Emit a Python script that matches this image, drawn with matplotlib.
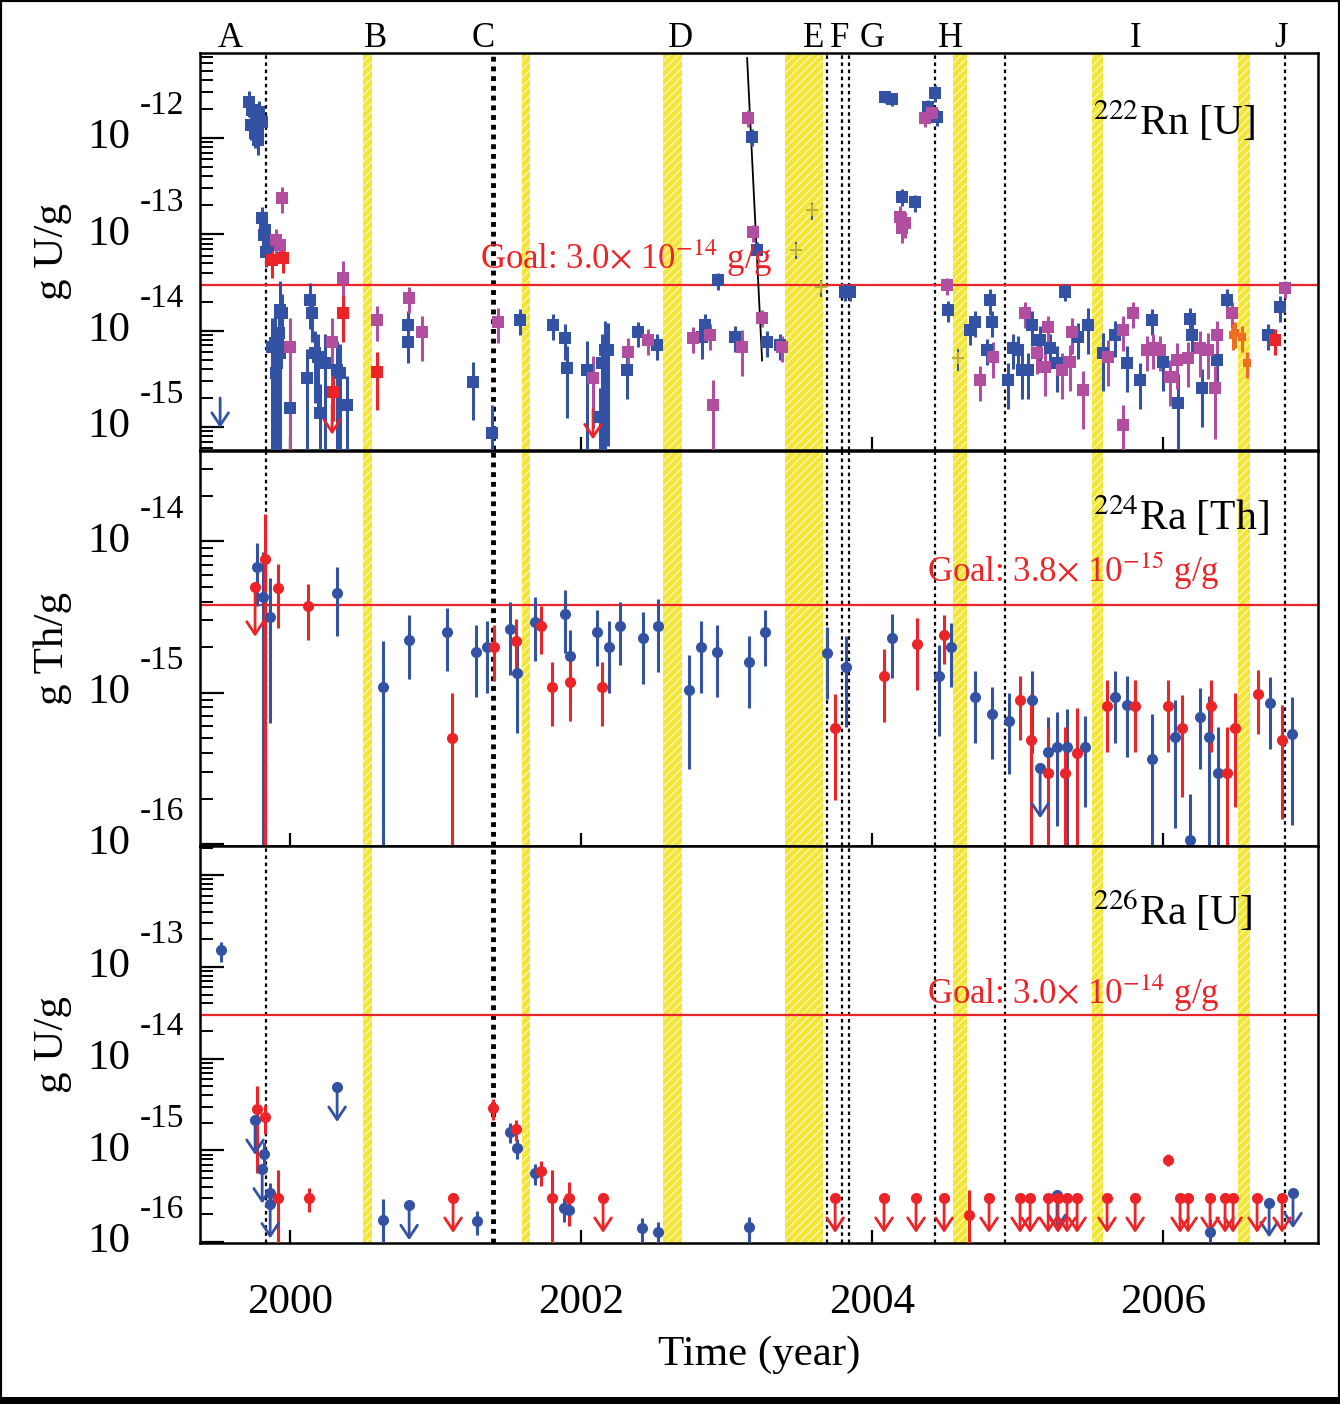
import numpy as np
import matplotlib
matplotlib.use("Agg")
import matplotlib.pyplot as plt
from matplotlib.patches import Rectangle
from matplotlib.ticker import LogLocator, NullFormatter
from matplotlib.transforms import offset_copy

plt.rcParams["font.family"] = ["Liberation Serif", "DejaVu Serif"]
plt.rcParams["mathtext.fontset"] = "stix"
plt.rcParams["hatch.linewidth"] = 1.0

BLUE = "#3452a4"
RED = "#ec2327"
MAGENTA = "#b24ea0"
ORANGE = "#f26b22"
YELLOW = "#f3e536"

# ---- time axis / run markers -------------------------------------------
YEAR_TICKS = [2000, 2002, 2004, 2006]
LETTERS = ["A", "B", "C", "D", "E", "F", "G", "H", "I", "J"]
LETTER_X = [1999.588, 2000.584, 2001.326, 2002.680, 2003.595, 2003.780,
            2004.000, 2004.536, 2005.808, 2006.811]
DOTTED_X = [1999.835, 2003.691, 2003.794, 2003.842, 2004.433, 2004.914, 2006.838]
DOTTED_THICK_X = [2001.395]
BANDS = [(2000.502, 2000.564), (2001.594, 2001.649), (2002.564, 2002.694),
         (2003.402, 2003.663), (2004.557, 2004.653), (2005.512, 2005.588),
         (2006.515, 2006.598)]

# ---- 222Rn [U] panel (values are log10 of g/g, errors are relative) -----
RN_BLUE_X = [1999.718, 1999.739, 1999.766, 1999.732, 1999.787, 1999.808, 1999.759, 1999.780,
             1999.808, 1999.828, 1999.849, 1999.821, 1999.863, 1999.835,
             1999.931, 1999.945, 1999.924, 1999.897, 1999.876, 1999.931, 1999.911, 1999.904,
             2000.000, 2000.137, 2000.151, 2000.172, 2000.192, 2000.117, 2000.206, 2000.241,
             2000.323, 2000.344, 2000.392, 2000.811, 2000.811, 2001.258, 2001.388, 2001.581,
             2001.808, 2001.890, 2001.904, 2002.041, 2002.144, 2002.165, 2002.131, 2002.186,
             2002.316, 2002.392, 2002.522, 2002.832, 2002.852, 2002.942, 2003.058, 2003.175,
             2003.210, 2003.278, 2003.368, 2003.814, 2003.849, 2004.089, 2004.137, 2004.206,
             2004.296, 2004.385, 2004.433, 2004.447, 2004.522, 2004.674, 2004.708, 2004.790,
             2004.811, 2004.825, 2004.935, 2004.969, 2005.003, 2005.031, 2005.072, 2005.100,
             2005.155, 2005.223, 2005.271, 2005.326, 2005.416, 2005.485, 2005.588, 2005.670,
             2005.753, 2005.842, 2005.924, 2006.000, 2006.103, 2006.186, 2006.199, 2006.268,
             2006.371, 2006.440, 2006.722, 2006.804]
RN_BLUE_LOG = [-11.63, -11.71, -11.79, -11.87, -11.73, -11.83, -11.95, -12.02,
               -12.83, -12.96, -13.06, -13.01, -13.11, -13.18,
               -13.79, -13.82, -14.03, -14.13, -14.17, -14.23, -14.34, -14.44,
               -14.80, -13.68, -13.82, -14.23, -14.27, -14.49, -14.86, -14.34,
               -14.41, -14.44, -14.77, -13.94, -14.12, -14.53, -15.06, -13.89,
               -13.94, -14.08, -14.39, -14.41, -14.34, -14.20, -14.90, -14.20,
               -14.41, -14.02, -14.15, -14.07, -13.94, -13.48, -14.07, -11.99,
               -13.16, -14.12, -14.15, -13.60, -13.60, -11.57, -11.60, -12.61,
               -12.67, -11.68, -11.53, -11.78, -13.79, -13.99, -13.91, -14.20,
               -13.68, -13.91, -14.51, -14.18, -14.20, -14.41, -14.41, -13.94,
               -14.10, -14.18, -14.34, -13.60, -14.07, -13.94, -14.23, -14.05,
               -14.34, -14.51, -13.89, -14.33, -14.75, -13.88, -14.05, -14.60,
               -14.31, -13.68, -14.05, -13.76]
RN_BLUE_ERR = [0.3, 0.3, 0.3, 0.3, 0.3, 0.3, 0.3, 0.3,
               0.3, 0.3, 0.3, 0.3, 0.3, 0.3,
               1.0, 0.6, 1.0, 1.0, 1.0, 1.0, 1.0, 1.0,
               1.0, 0.5, 0.5, 0.7, 0.7, 1.0, 1.0, 1.0,
               1.0, 1.0, 1.0, 0.4, 0.4, 0.6, 0.95, 0.3,
               0.3, 0.4, 0.7, 1.0, 1.0, 1.0, 1.0, 0.9,
               0.5, 0.3, 0.3, 0.4, 0.3, 0.2, 0.3, 0.2,
               0.2, 0.3, 0.3, 0.2, 0.2, 0.15, 0.15, 0.2,
               0.2, 0.2, 0.2, 0.2, 0.25, 0.3, 0.3, 0.3,
               0.3, 0.3, 0.5, 0.4, 0.4, 0.5, 0.5, 0.4,
               0.4, 0.4, 0.5, 0.2, 0.4, 0.5, 0.6, 0.4,
               0.5, 0.5, 0.3, 0.5, 1.0, 0.3, 0.4, 0.6,
               0.5, 0.3, 0.3, 0.3]

RN_MAG_X = [1999.945, 1999.904, 1999.931, 2000.000, 2000.289, 2000.364, 2000.598, 2000.818,
            2000.907, 2001.430, 2002.082, 2002.323, 2002.460, 2002.770, 2002.887, 2002.907,
            2003.107, 2003.148, 2003.182, 2003.244, 2003.381, 2004.192, 2004.227, 2004.206,
            2004.364, 2004.412, 2004.515, 2004.742, 2004.832, 2005.052, 2005.134, 2005.210,
            2005.189, 2005.306, 2005.375, 2005.361, 2005.450, 2005.622, 2005.725, 2005.725,
            2005.794, 2005.890, 2005.931, 2005.979, 2006.048, 2006.096, 2006.172, 2006.254,
            2006.309, 2006.371, 2006.357, 2006.474, 2006.838]
RN_MAG_LOG = [-12.62, -13.06, -13.11, -14.17, -14.12, -13.45, -13.89, -13.66,
              -14.02, -13.91, -14.49, -14.22, -14.10, -14.08, -14.05, -14.77,
              -14.17, -11.79, -12.98, -13.87, -14.17, -12.82, -12.88, -12.94,
              -11.79, -11.74, -13.53, -14.51, -14.27, -13.82, -14.23, -13.96,
              -14.38, -14.41, -14.02, -14.33, -14.62, -14.27, -13.99, -14.98,
              -13.82, -14.20, -14.18, -14.20, -14.48, -14.31, -14.29, -14.18,
              -14.20, -14.05, -14.60, -13.82, -13.56]
RN_MAG_ERR = [0.3, 0.3, 0.3, 1.0, 0.8, 0.5, 0.4, 0.3,
              0.5, 0.4, 0.7, 0.4, 0.3, 0.3, 0.3, 0.8,
              0.5, 0.2, 0.2, 0.2, 0.3, 0.3, 0.3, 0.3,
              0.2, 0.2, 0.2, 0.4, 0.4, 0.3, 0.4, 0.3,
              0.5, 0.5, 0.4, 0.5, 0.6, 0.5, 0.4, 0.6,
              0.3, 0.4, 0.4, 0.4, 0.5, 0.5, 0.5, 0.5,
              0.5, 0.4, 0.7, 0.3, 0.2]

RN_RED_X = [1999.876, 1999.952, 2000.296, 2000.364, 2000.598, 2006.770]
RN_RED_LOG = [-13.27, -13.25, -14.64, -13.82, -14.43, -14.10]
RN_RED_ERR = [0.35, 0.3, 0.5, 0.5, 0.6, 0.3]
RN_RED_UL_X = [2000.289, 2002.082]
RN_RED_UL_LOG = [-14.77, -14.82]
RN_BLUE_UL_X = [1999.519]
RN_BLUE_UL_LOG = [-14.70]

RN_ORANGE_X = [2006.481, 2006.495, 2006.543, 2006.577]
RN_ORANGE_LOG = [-14.05, -14.03, -14.07, -14.34]
RN_ORANGE_ERR = [0.3, 0.3, 0.3, 0.3]

RN_CROSS_X = [2003.478, 2003.588, 2003.649, 2004.591]
RN_CROSS_LOG = [-13.16, -12.75, -13.55, -14.29]
RN_CROSS_ERR = [0.2, 0.2, 0.2, 0.25]

FIT_X = [2003.141, 2003.244]
FIT_LOG = [-11.17, -14.31]

# ---- 224Ra [Th] panel ---------------------------------------------------
TH_BLUE_X = [1999.773, 1999.814, 1999.863, 2000.323, 2000.639, 2000.818, 2001.079, 2001.278,
             2001.354, 2001.512, 2001.560, 2001.684, 2001.890, 2001.924, 2002.110, 2002.192,
             2002.268, 2002.426, 2002.529, 2002.742, 2002.825, 2002.935, 2003.155, 2003.265,
             2003.691, 2003.821, 2004.137, 2004.460, 2004.543, 2004.708, 2004.825, 2004.942,
             2005.100, 2005.210, 2005.271, 2005.340, 2005.464, 2005.670, 2005.753, 2005.924,
             2006.082, 2006.186, 2006.254, 2006.316, 2006.378, 2006.735, 2006.887]
TH_BLUE_LOG = [-14.17, -14.37, -14.50, -14.34, -14.96, -14.65, -14.60, -14.73,
               -14.70, -14.58, -14.87, -14.53, -14.48, -14.76, -14.60, -14.70,
               -14.56, -14.64, -14.56, -14.98, -14.70, -14.73, -14.80, -14.60,
               -14.74, -14.83, -14.64, -14.89, -14.70, -15.03, -15.14, -15.19,
               -15.05, -15.39, -15.36, -15.36, -15.36, -15.03, -15.08, -15.44,
               -15.29, -15.97, -15.16, -15.29, -15.53, -15.07, -15.27]
TH_BLUE_ERR = [0.45, 1.0, 0.8, 0.48, 1.0, 0.45, 0.45, 0.5,
               0.5, 0.5, 0.6, 0.45, 0.45, 0.5, 0.4, 0.5,
               0.45, 0.5, 0.5, 0.7, 0.5, 0.5, 0.5, 0.4,
               0.5, 0.6, 0.45, 0.6, 0.45, 0.5, 0.5, 0.55,
               0.55, 0.7, 0.7, 0.8, 0.6, 0.5, 0.55, 1.0,
               0.75, 1.0, 0.55, 0.85, 1.0, 0.5, 0.75]
TH_BLUE_UL_X = [2005.155]
TH_BLUE_UL_LOG = [-15.50]

TH_RED_X = [1999.828, 1999.918, 2000.124, 2001.113, 2001.402, 2001.553, 2001.725, 2001.801,
            2001.924, 2002.144, 2003.746, 2004.082, 2004.309, 2004.495, 2005.017, 2005.093,
            2005.210, 2005.326, 2005.409, 2005.615, 2005.808, 2006.034, 2006.131, 2006.330,
            2006.440, 2006.495, 2006.653, 2006.818]
TH_RED_LOG = [-14.12, -14.31, -14.43, -15.30, -14.70, -14.66, -14.56, -14.96,
              -14.93, -14.96, -15.23, -14.89, -14.68, -14.62, -15.05, -15.31,
              -15.53, -15.53, -15.40, -15.09, -15.09, -15.09, -15.23, -15.09,
              -15.53, -15.23, -15.01, -15.31]
TH_RED_ERR = [1.0, 0.45, 0.4, 1.0, 0.4, 0.4, 0.35, 0.45,
              0.45, 0.45, 0.67, 0.5, 0.5, 0.35, 0.45, 1.0,
              1.0, 1.0, 1.0, 0.5, 0.5, 0.5, 0.65, 0.5,
              1.0, 0.7, 0.45, 0.7]
TH_RED_UL_X = [1999.759]
TH_RED_UL_LOG = [-14.30]

# ---- 226Ra [U] panel ----------------------------------------------------
RA_BLUE_X = [1999.526, 1999.821, 1999.863, 2000.639, 2001.285, 2001.512, 2001.560, 2001.684,
             2001.883, 2001.918, 2002.419, 2002.529, 2003.155, 2006.323]
RA_BLUE_LOG = [-12.82, -15.04, -15.47, -15.76, -15.77, -14.80, -14.97, -15.25,
               -15.63, -15.65, -15.85, -15.89, -15.84, -15.89]
RA_BLUE_ERR = [0.25, 0.35, 0.3, 0.7, 0.3, 0.25, 0.25, 0.25,
               0.3, 0.3, 0.3, 0.3, 0.3, 0.4]
RA_BLUE_UL_X = [1999.759, 1999.808, 1999.863, 2000.323, 2000.818, 2005.271, 2006.729, 2006.893]
RA_BLUE_UL_LOG = [-14.67, -15.20, -15.58, -14.31, -15.60, -15.49, -15.57, -15.47]

RA_RED_X = [1999.773, 1999.828, 1999.918, 2000.131, 2001.395, 2001.553, 2001.725, 2001.801,
            2001.918, 2004.667, 2006.034]
RA_RED_LOG = [-14.55, -14.64, -15.52, -15.52, -14.54, -14.77, -15.23, -15.52,
              -15.52, -15.71, -15.10]
RA_RED_ERR = [0.8, 0.35, 1.0, 0.3, 0.25, 0.25, 0.3, 1.0, 0.5, 0.9, 0.15]
RA_RED_UL_X = [2001.120, 2002.151, 2003.746, 2004.082, 2004.302, 2004.495, 2004.804, 2005.017,
               2005.086, 2005.210, 2005.278, 2005.340, 2005.409, 2005.615, 2005.808, 2006.117,
               2006.172, 2006.323, 2006.426, 2006.481, 2006.646, 2006.818]
RA_RED_UL_LOG = [-15.52] * len(RA_RED_UL_X)

GOALS = [3.0e-14, 3.8e-15, 3.0e-14]
GOAL_TEXTS = [r"Goal: 3.0$\times$ 10$^{-14}$ g/g",
              r"Goal: 3.8$\times$ 10$^{-15}$ g/g",
              r"Goal: 3.0$\times$ 10$^{-14}$ g/g"]
PANEL_TAGS = [r"$^{222}$Rn [U]", r"$^{224}$Ra [Th]", r"$^{226}$Ra [U]"]
Y_LABELS = ["g U/g", "g Th/g", "g U/g"]
Y_LIMS = [(10 ** -15.24, 10 ** -11.117), (10 ** -16.013, 10 ** -13.404),
          (10 ** -16.01, 10 ** -11.68)]
LABELED_EXP = [[-12, -13, -14, -15], [-14, -15, -16], [-13, -14, -15, -16]]

X_MIN, X_MAX = 1999.381, 2007.065


def draw_points(ax, x, logy, rel, color, marker, ms=8):
    y = 10.0 ** np.asarray(logy)
    rel = np.asarray(rel)
    lo = np.clip(y * (1 - rel), 1e-22, None)
    hi = y * (1 + rel)
    ax.errorbar(x, y, yerr=[y - lo, hi - y], fmt=marker, color=color, ms=ms,
                mew=0, elinewidth=2.2, capsize=0, zorder=4)


def draw_limits(ax, x, logy, color, marker, arrow_dec, ms=8):
    for xi, li in zip(x, logy):
        ax.annotate("", xy=(xi, 10.0 ** (li - arrow_dec)), xytext=(xi, 10.0 ** li),
                    arrowprops=dict(arrowstyle="->,head_length=0.9,head_width=0.6",
                                    color=color, lw=2.0, shrinkA=0, shrinkB=0),
                    zorder=4)
    ax.plot(x, 10.0 ** np.asarray(logy), marker, color=color, ms=ms, mew=0, zorder=4)


def setup_axis(fig, ax, i):
    ax.set_yscale("log")
    ax.set_xlim(X_MIN, X_MAX)
    ax.set_ylim(*Y_LIMS[i])
    ax.yaxis.set_major_locator(LogLocator(base=10, numticks=20))
    ax.yaxis.set_minor_locator(LogLocator(base=10, subs=np.arange(2, 10), numticks=60))
    ax.yaxis.set_major_formatter(NullFormatter())
    ax.yaxis.set_minor_formatter(NullFormatter())
    ax.tick_params(axis="y", which="major", direction="in", length=17, width=1.6,
                   left=True, right=False)
    ax.tick_params(axis="y", which="minor", direction="in", length=9, width=1.4,
                   left=True, right=False)
    ax.set_xticks(YEAR_TICKS)
    ax.tick_params(axis="x", direction="in", length=9.5, width=1.6, top=False,
                   labelsize=31, pad=29)
    for sp in ax.spines.values():
        sp.set_linewidth(1.8)

    # ROOT style "10^-n" labels
    trans = ax.get_yaxis_transform()
    up = offset_copy(trans, fig=fig, y=23, units="points")
    for e in LABELED_EXP[i]:
        ax.text(-0.0626, 10.0 ** e, "10", transform=trans, ha="right", va="center",
                fontsize=31)
        ax.text(-0.0537, 10.0 ** e, str(e), transform=up, ha="left", va="center",
                fontsize=24)
    ax.set_ylabel(Y_LABELS[i], fontsize=31)
    ax.yaxis.set_label_coords(-0.1145, 0.5)

    for x0, x1 in BANDS:
        ax.axvspan(x0, x1, facecolor=YELLOW, edgecolor="#fbf5b0", hatch="////",
                   lw=0, zorder=0.5)
    for x in DOTTED_X:
        ax.axvline(x, color="black", ls=(0, (1.6, 1.6)), lw=1.6, zorder=1)
    for x in DOTTED_THICK_X:
        ax.axvline(x, color="black", ls=(0, (1.0, 1.0)), lw=3.5, zorder=1)
    ax.axhline(GOALS[i], color=RED, lw=1.6, zorder=2)


def main():
    fig = plt.figure(figsize=(13.4, 14.04), dpi=100)
    ax1 = fig.add_axes([0.1493, 0.6795, 0.8343, 0.2828])
    ax2 = fig.add_axes([0.1493, 0.3974, 0.8343, 0.2813])
    ax3 = fig.add_axes([0.1493, 0.1147, 0.8343, 0.2828])
    axes = [ax1, ax2, ax3]
    for i, ax in enumerate(axes):
        setup_axis(fig, ax, i)

    # panel 1: 222Rn
    draw_points(ax1, RN_BLUE_X, RN_BLUE_LOG, RN_BLUE_ERR, BLUE, "s", ms=9)
    draw_points(ax1, RN_MAG_X, RN_MAG_LOG, RN_MAG_ERR, MAGENTA, "s", ms=9)
    draw_points(ax1, RN_RED_X, RN_RED_LOG, RN_RED_ERR, RED, "s", ms=9)
    draw_points(ax1, RN_ORANGE_X, RN_ORANGE_LOG, RN_ORANGE_ERR, ORANGE, "s", ms=6)
    draw_limits(ax1, RN_RED_UL_X, RN_RED_UL_LOG, RED, "s", 0.31, ms=0)
    draw_limits(ax1, RN_BLUE_UL_X, RN_BLUE_UL_LOG, BLUE, "s", 0.31, ms=0)
    y = 10.0 ** np.asarray(RN_CROSS_LOG)
    e = np.asarray(RN_CROSS_ERR)
    ax1.errorbar(RN_CROSS_X, y, yerr=[y * e, y * e], fmt="+", color=BLUE, mec="#b8b040",
                 ms=9, mew=1.5, elinewidth=1.4, capsize=0, zorder=4)
    ax1.plot(FIT_X, 10.0 ** np.asarray(FIT_LOG), color="black", lw=1.3, zorder=3.5)

    # panel 2: 224Ra
    draw_points(ax2, TH_BLUE_X, TH_BLUE_LOG, TH_BLUE_ERR, BLUE, "o")
    draw_points(ax2, TH_RED_X, TH_RED_LOG, TH_RED_ERR, RED, "o")
    draw_limits(ax2, TH_BLUE_UL_X, TH_BLUE_UL_LOG, BLUE, "o", 0.33)
    draw_limits(ax2, TH_RED_UL_X, TH_RED_UL_LOG, RED, "o", 0.33)

    # panel 3: 226Ra
    draw_points(ax3, RA_BLUE_X, RA_BLUE_LOG, RA_BLUE_ERR, BLUE, "o")
    draw_points(ax3, RA_RED_X, RA_RED_LOG, RA_RED_ERR, RED, "o")
    draw_limits(ax3, RA_BLUE_UL_X, RA_BLUE_UL_LOG, BLUE, "o", 0.38)
    draw_limits(ax3, RA_RED_UL_X, RA_RED_UL_LOG, RED, "o", 0.38)

    # goal annotations and panel tags
    goal_x = [2001.306, 2004.378, 2004.378]
    goal_dy = [11.5, 16.5, 8.0]
    tag_y = [0.793, 0.80, 0.80]
    for i, ax in enumerate(axes):
        tr = offset_copy(ax.transData, fig=fig, y=goal_dy[i], units="points")
        ax.text(goal_x[i], GOALS[i], GOAL_TEXTS[i], transform=tr, color=RED,
                fontsize=25, va="baseline", ha="left", zorder=5)
        ax.text(0.799, tag_y[i], PANEL_TAGS[i], transform=ax.transAxes, fontsize=30,
                va="baseline", ha="left", zorder=5)

    for ax in (ax1, ax2):
        ax.tick_params(axis="x", labelbottom=False)
    ax3.set_xticklabels([str(t) for t in YEAR_TICKS])
    ax3.set_xlabel("Time (year)", fontsize=31, labelpad=10)

    for lab, x in zip(LETTERS, LETTER_X):
        ax1.text(x, 1.015, lab, transform=ax1.get_xaxis_transform(), ha="center",
                 va="baseline", fontsize=25)

    fig.add_artist(Rectangle((0, 0), 1, 1, transform=fig.transFigure, fill=False,
                             ec="black", lw=3))
    fig.add_artist(Rectangle((0, 0), 1, 0.005, transform=fig.transFigure,
                             fc="black", ec="none"))
    fig.savefig("out.png", dpi=100)
    plt.close(fig)


if __name__ == "__main__":
    main()
